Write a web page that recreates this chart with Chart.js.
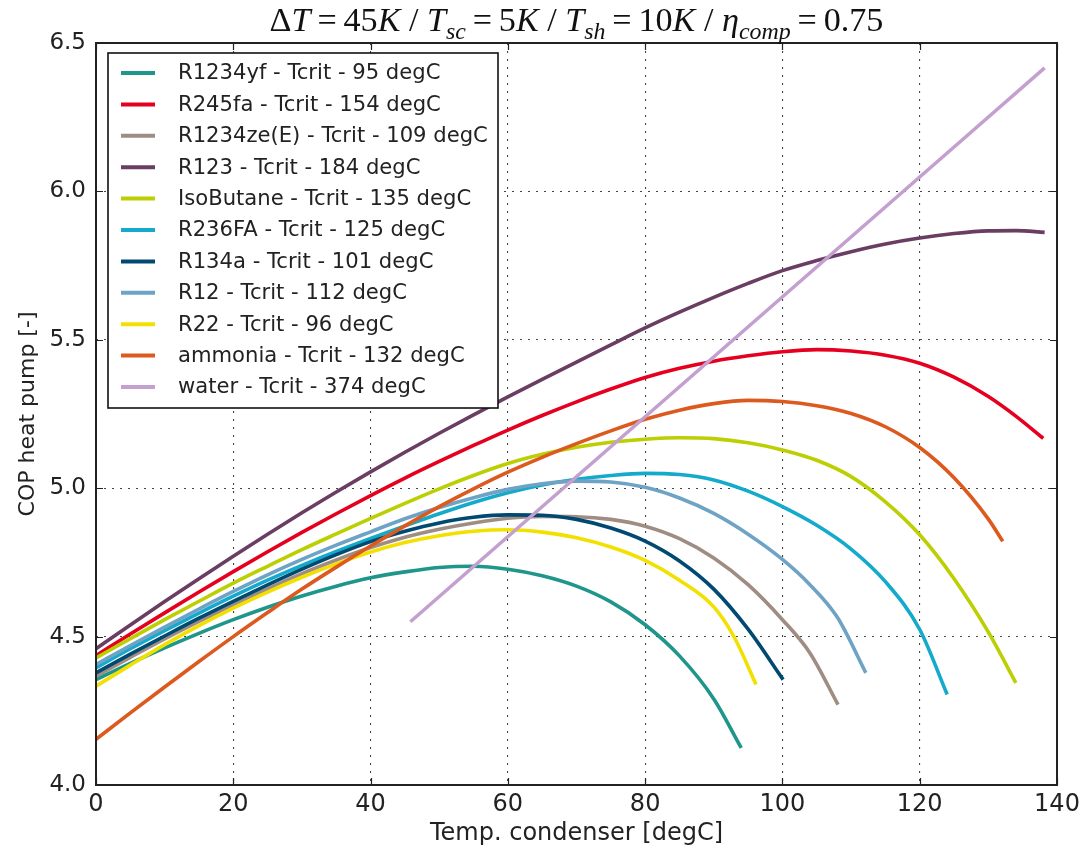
<!DOCTYPE html>
<html><head><meta charset="utf-8">
<script src="https://cdn.jsdelivr.net/npm/chart.js@4"></script>
<style>html,body{margin:0;padding:0;background:#fff}</style>
</head><body>
<canvas id="c" width="1088" height="852" style="display:block;width:1088px;height:852px"></canvas>
<script>
// ---------- data ----------
const seriesLabels = [
  'R1234yf - Tcrit - 95 degC',
  'R245fa - Tcrit - 154 degC',
  'R1234ze(E) - Tcrit - 109 degC',
  'R123 - Tcrit - 184 degC',
  'IsoButane - Tcrit - 135 degC',
  'R236FA - Tcrit - 125 degC',
  'R134a - Tcrit - 101 degC',
  'R12 - Tcrit - 112 degC',
  'R22 - Tcrit - 96 degC',
  'ammonia - Tcrit - 132 degC',
  'water - Tcrit - 374 degC'
];
const seriesColors = ['#1f968b','#e6001f','#9f8d84','#6a3d62','#bccf02','#14aacb','#004a72','#6fa3c6','#f2e100','#dc5a1e','#c3a0cf'];

const r1234yfT   = [0, 5, 10, 15, 20, 25, 30, 35, 40, 45, 50, 55, 60, 65, 70, 75, 80, 85, 90, 94];
const r1234yfCOP = [4.355, 4.410, 4.462, 4.511, 4.557, 4.599, 4.637, 4.670, 4.698, 4.718, 4.733, 4.737, 4.727, 4.705, 4.670, 4.617, 4.540, 4.435, 4.290, 4.125];

const r245faT    = [0, 5, 10, 15, 20, 25, 30, 35, 40, 45, 50, 55, 60, 65, 70, 75, 80, 85, 90, 95, 100, 105, 110, 115, 120, 125, 130, 134, 138];
const r245faCOP  = [4.436, 4.509, 4.580, 4.650, 4.719, 4.786, 4.851, 4.914, 4.975, 5.034, 5.090, 5.144, 5.196, 5.245, 5.291, 5.334, 5.373, 5.404, 5.428, 5.446, 5.460, 5.467, 5.462, 5.448, 5.421, 5.374, 5.309, 5.243, 5.168];

const r1234zeT   = [0, 5, 10, 15, 20, 25, 30, 35, 40, 45, 50, 55, 60, 65, 70, 75, 80, 85, 90, 95, 100, 104, 108.1];
const r1234zeCOP = [4.367, 4.430, 4.492, 4.551, 4.607, 4.661, 4.712, 4.758, 4.800, 4.835, 4.862, 4.883, 4.899, 4.905, 4.904, 4.895, 4.872, 4.830, 4.765, 4.675, 4.557, 4.445, 4.271];

const r123T      = [0, 5, 10, 15, 20, 25, 30, 35, 40, 45, 50, 55, 60, 65, 70, 75, 80, 85, 90, 95, 100, 105, 110, 115, 120, 125, 130, 134, 138.2];
const r123COP    = [4.459, 4.539, 4.618, 4.695, 4.771, 4.845, 4.917, 4.987, 5.055, 5.121, 5.185, 5.247, 5.308, 5.367, 5.425, 5.483, 5.540, 5.593, 5.643, 5.690, 5.733, 5.767, 5.797, 5.823, 5.843, 5.858, 5.867, 5.868, 5.862];

const isobutaneT   = [0, 5, 10, 15, 20, 25, 30, 35, 40, 45, 50, 55, 60, 65, 70, 75, 80, 85, 90, 95, 100, 105, 110, 115, 120, 125, 130, 134];
const isobutaneCOP = [4.428, 4.493, 4.557, 4.619, 4.680, 4.737, 4.793, 4.846, 4.898, 4.949, 4.998, 5.043, 5.083, 5.114, 5.138, 5.155, 5.165, 5.170, 5.167, 5.153, 5.129, 5.094, 5.039, 4.954, 4.843, 4.695, 4.515, 4.344];

const r236faT    = [0, 5, 10, 15, 20, 25, 30, 35, 40, 45, 50, 55, 60, 65, 70, 75, 80, 85, 90, 95, 100, 105, 110, 115, 120, 124];
const r236faCOP  = [4.395, 4.459, 4.520, 4.579, 4.636, 4.690, 4.740, 4.787, 4.831, 4.873, 4.914, 4.952, 4.985, 5.011, 5.030, 5.043, 5.050, 5.046, 5.028, 4.990, 4.938, 4.875, 4.795, 4.685, 4.524, 4.305];

const r134aT     = [0, 5, 10, 15, 20, 25, 30, 35, 40, 45, 50, 55, 60, 65, 70, 75, 80, 85, 90, 95, 100.1];
const r134aCOP   = [4.378, 4.441, 4.502, 4.562, 4.619, 4.674, 4.727, 4.776, 4.820, 4.855, 4.883, 4.902, 4.910, 4.909, 4.895, 4.866, 4.822, 4.755, 4.660, 4.525, 4.355];

const r12T       = [0, 5, 10, 15, 20, 25, 30, 35, 40, 45, 50, 55, 60, 65, 70, 75, 80, 85, 90, 95, 100, 104, 108, 112.15];
const r12COP     = [4.406, 4.470, 4.532, 4.593, 4.652, 4.708, 4.760, 4.808, 4.853, 4.897, 4.935, 4.968, 4.996, 5.015, 5.024, 5.021, 5.003, 4.967, 4.915, 4.845, 4.760, 4.675, 4.565, 4.378];

const r22T       = [0, 5, 10, 15, 20, 25, 30, 35, 40, 45, 50, 55, 60, 65, 70, 75, 80, 85, 90, 93, 96.15];
const r22COP     = [4.333, 4.404, 4.473, 4.537, 4.596, 4.650, 4.700, 4.745, 4.785, 4.817, 4.840, 4.855, 4.860, 4.852, 4.833, 4.802, 4.757, 4.690, 4.600, 4.497, 4.339];

const ammoniaT   = [0, 5, 10, 15, 20, 25, 30, 35, 40, 45, 50, 55, 60, 65, 70, 75, 80, 85, 90, 95, 100, 105, 110, 115, 120, 125, 130, 132.1];
const ammoniaCOP = [4.154, 4.243, 4.330, 4.416, 4.500, 4.581, 4.660, 4.734, 4.805, 4.873, 4.938, 4.998, 5.054, 5.104, 5.150, 5.193, 5.232, 5.263, 5.285, 5.296, 5.292, 5.278, 5.252, 5.207, 5.137, 5.035, 4.896, 4.821];

const waterT     = [45.8, 138.2];
const waterCOP   = [4.55, 6.416];

const xTicks = [0, 20, 40, 60, 80, 100, 120, 140];
const yTicks = [4.0, 4.5, 5.0, 5.5, 6.0, 6.5];

const seriesT   = [r1234yfT, r245faT, r1234zeT, r123T, isobutaneT, r236faT, r134aT, r12T, r22T, ammoniaT, waterT];
const seriesCOP = [r1234yfCOP, r245faCOP, r1234zeCOP, r123COP, isobutaneCOP, r236faCOP, r134aCOP, r12COP, r22COP, ammoniaCOP, waterCOP];

const xTitle = 'Temp. condenser [degC]';
const yTitle = 'COP heat pump [-]';
// title pieces: [text, italic, subscript]
const TS = '\u2009';
const titleParts = [
  ['\u0394', false, false], ['T', true, false], [TS + '=' + TS + '45', false, false], ['K', true, false], [' / ', false, false],
  ['T', true, false], ['sc', true, true], [TS + '=' + TS + '5', false, false], ['K', true, false], [' / ', false, false],
  ['T', true, false], ['sh', true, true], [TS + '=' + TS + '10', false, false], ['K', true, false], [' / ', false, false],
  ['\u03B7', true, false], ['comp', true, true], [TS + '=' + TS + '0.75', false, false]
];

// ---------- chart ----------
const N = seriesLabels.length;
const datasets = seriesLabels.map((lab, i) => ({
  label: lab,
  data: seriesT[i].map((t, k) => ({x: t, y: seriesCOP[i][k]})),
  borderColor: seriesColors[i],
  backgroundColor: seriesColors[i],
  borderWidth: 3.6,
  pointRadius: 0,
  fill: false,
  cubicInterpolationMode: 'monotone',
  borderCapStyle: 'butt',
  order: N - i
}));

const SANS = "'DejaVu Sans', 'Liberation Sans', sans-serif";
const SERIF = "'Liberation Serif', 'DejaVu Serif', serif";

const framePlugin = {
  id: 'frame',
  afterDraw(chart) {
    const ctx = chart.ctx;
    const a = chart.chartArea;
    const xs = chart.scales.x, ys = chart.scales.y;
    ctx.save();
    // inward ticks on all four sides
    ctx.strokeStyle = '#222';
    ctx.lineWidth = 1.2;
    const TL = 7;
    ctx.beginPath();
    xTicks.forEach(v => {
      const px = Math.round(xs.getPixelForValue(v)) + 0.5;
      ctx.moveTo(px, a.bottom); ctx.lineTo(px, a.bottom - TL);
      ctx.moveTo(px, a.top); ctx.lineTo(px, a.top + TL);
    });
    yTicks.forEach(v => {
      const py = Math.round(ys.getPixelForValue(v)) + 0.5;
      ctx.moveTo(a.left, py); ctx.lineTo(a.left + TL, py);
      ctx.moveTo(a.right, py); ctx.lineTo(a.right - TL, py);
    });
    ctx.stroke();
    // frame
    ctx.strokeStyle = '#222';
    ctx.lineWidth = 2;
    ctx.strokeRect(a.left, a.top, a.right - a.left, a.bottom - a.top);

    // legend box
    const lx = 108, ly = 53, lw = 390, lh = 355;
    ctx.fillStyle = '#fff';
    ctx.fillRect(lx, ly, lw, lh);
    ctx.lineWidth = 1.6;
    ctx.strokeStyle = '#111';
    ctx.strokeRect(lx, ly, lw, lh);
    // fit legend font so the widest label matches the reference width
    ctx.font = '100px ' + SANS;
    const wRef = ctx.measureText(seriesLabels[2]).width;
    const fs = 100 * 310 / wRef;
    ctx.font = fs.toFixed(2) + 'px ' + SANS;
    ctx.textBaseline = 'middle';
    ctx.textAlign = 'left';
    chart.data.datasets.forEach((ds, i) => {
      const y = ly + 20 + i * 31.4;
      ctx.strokeStyle = ds.borderColor;
      ctx.lineWidth = 4;
      ctx.beginPath(); ctx.moveTo(121, y); ctx.lineTo(155, y); ctx.stroke();
      ctx.fillStyle = '#222';
      ctx.fillText(ds.label, 178, y + 1);
    });

    // title (math style)
    const base = 26;
    const measure = (size) => {
      let w = 0;
      titleParts.forEach(([t, it, sub]) => {
        const s = sub ? size * 0.7 : size;
        ctx.font = (it ? 'italic ' : '') + s + 'px ' + SERIF;
        w += ctx.measureText(t).width;
      });
      return w;
    };
    const w0 = measure(base);
    const size = base * 614 / w0;
    const wt = measure(size);
    let x = (a.left + a.right) / 2 - wt / 2;
    const yb = 31;
    ctx.fillStyle = '#111';
    ctx.textBaseline = 'alphabetic';
    titleParts.forEach(([t, it, sub]) => {
      const s = sub ? size * 0.7 : size;
      ctx.font = (it ? 'italic ' : '') + s + 'px ' + SERIF;
      ctx.fillText(t, x, sub ? yb + size * 0.22 : yb);
      x += ctx.measureText(t).width;
    });
    ctx.restore();
  }
};

new Chart(document.getElementById('c'), {
  type: 'line',
  data: { datasets },
  options: {
    responsive: false,
    animation: false,
    devicePixelRatio: 1,
    layout: { padding: { left: 0, top: 43, right: 31, bottom: 0 } },
    plugins: { legend: { display: false }, title: { display: false }, tooltip: { enabled: false } },
    scales: {
      x: {
        type: 'linear', min: 0, max: 140,
        afterBuildTicks: s => { s.ticks = xTicks.map(v => ({value: v})); },
        ticks: { color: '#222', font: { family: SANS, size: 24 }, padding: 5, maxRotation: 0, autoSkip: false },
        grid: { color: '#444', lineWidth: 1.1, drawTicks: false },
        border: { display: false, dash: [2, 6] },
        title: { display: true, text: xTitle, color: '#222', font: { family: SANS, size: 24 }, padding: { top: 0, bottom: 4 } },
        afterFit: s => { s.height = 67; }
      },
      y: {
        type: 'linear', min: 4.0, max: 6.5,
        afterBuildTicks: s => { s.ticks = yTicks.map(v => ({value: v})); },
        ticks: { color: '#222', font: { family: SANS, size: 23 }, padding: 10, callback: v => Number(v).toFixed(1) },
        grid: { color: '#444', lineWidth: 1.1, drawTicks: false },
        border: { display: false, dash: [2, 6] },
        title: { display: true, text: yTitle, color: '#222', font: { family: SANS, size: 22 }, padding: { top: 15, bottom: 0 } },
        afterFit: s => { s.width = 96; }
      }
    }
  },
  plugins: [framePlugin]
});
</script>
</body></html>
